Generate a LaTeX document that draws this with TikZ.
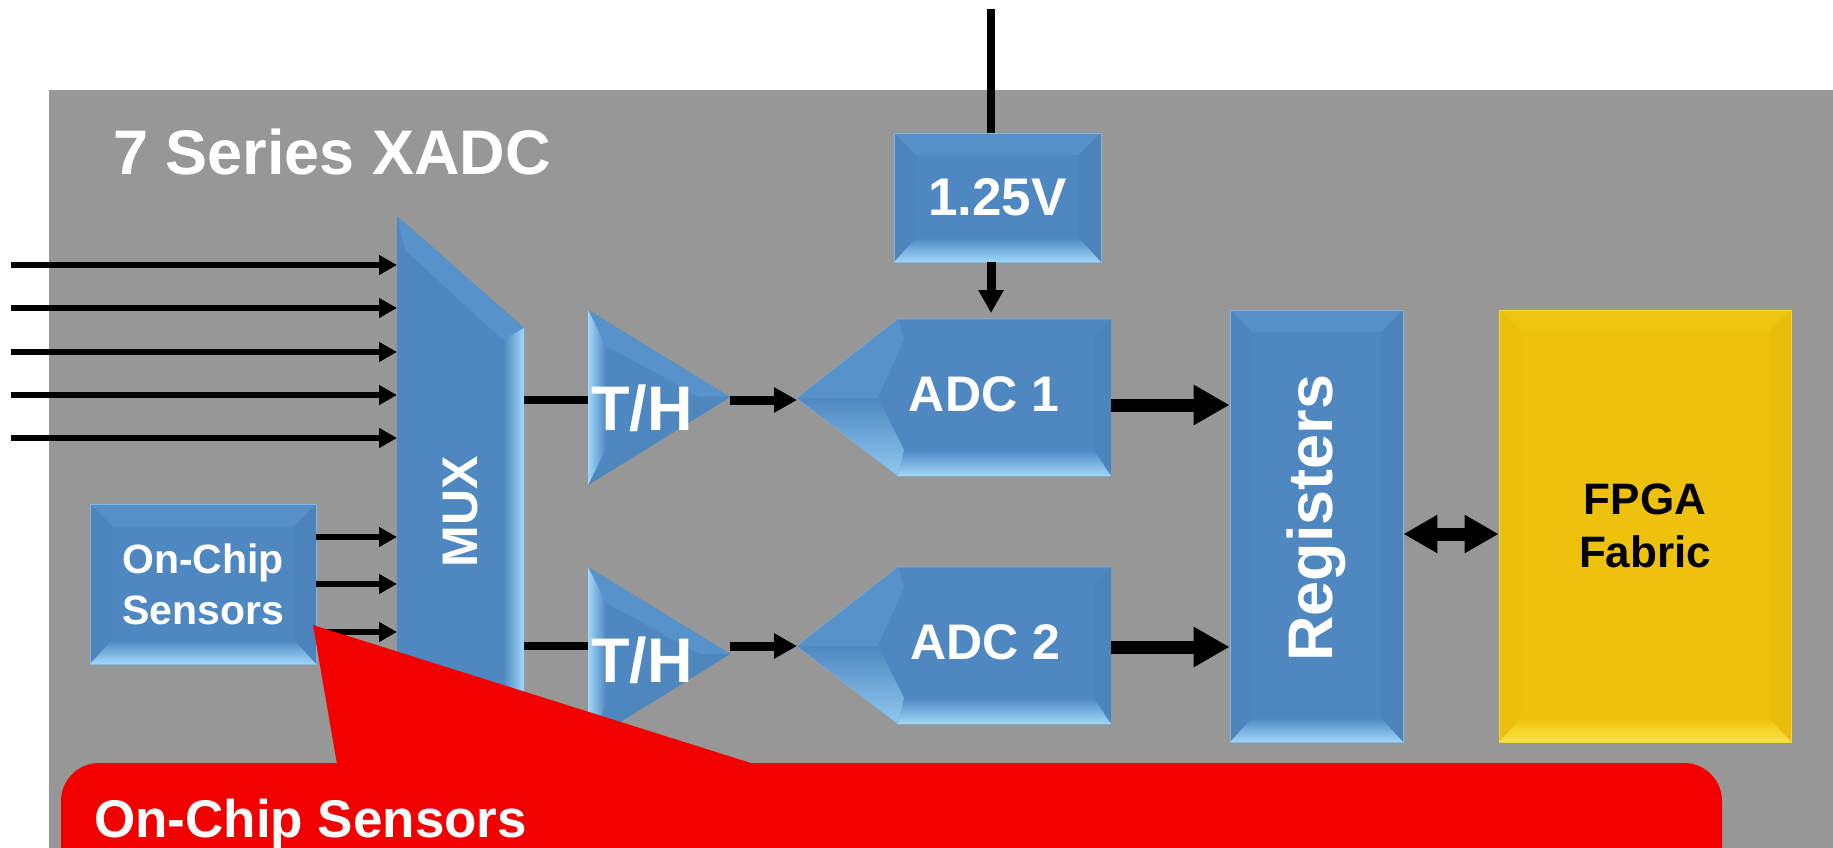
\documentclass[tikz,border=0pt]{standalone}
\usepackage{fontspec}
\setmainfont{Liberation Sans}
\usetikzlibrary{arrows.meta,positioning,calc}
\definecolor{szurke}{RGB}{150,151,150}
\definecolor{kek}{RGB}{79,136,193}
\definecolor{kekmid}{RGB}{88,146,203}
\definecolor{keklight}{RGB}{160,216,250}
\definecolor{kekdark}{RGB}{66,117,170}
\definecolor{sarga}{RGB}{238,193,12}
\definecolor{sargavil}{RGB}{252,228,70}
\definecolor{sargasot}{RGB}{224,178,8}
\definecolor{piros}{RGB}{242,0,0}
\newcommand{\txtsz}[2]{\fontsize{#1pt}{#2pt}\selectfont\bfseries}
\tikzset{
  bevel/.style n args={3}{fill=#1,draw=#2!60!#1,line width=0.8pt,inner sep=0pt,
    path picture={
      \path (path picture bounding box.south west) coordinate (bsw)
            (path picture bounding box.north west) coordinate (bnw)
            (path picture bounding box.north east) coordinate (bne)
            (path picture bounding box.south east) coordinate (bse);
      \fill[#2!10!#1] (bnw) -- (bne) -- ([shift={(-22pt,-22pt)}]bne) -- ([shift={(22pt,-22pt)}]bnw) -- cycle;
      \fill[#1!75!#3] (bne) -- (bse) -- ([shift={(-22pt,22pt)}]bse) -- ([shift={(-22pt,-22pt)}]bne) -- cycle;
      \fill[#1!85!#3] (bsw) -- (bnw) -- ([shift={(22pt,-22pt)}]bnw) -- ([shift={(22pt,22pt)}]bsw) -- cycle;
      \shade[top color=#1,bottom color=#2] (bsw) -- (bse) -- ([shift={(-22pt,24pt)}]bse) -- ([shift={(22pt,24pt)}]bsw) -- cycle;
    }},
  doboz/.style={bevel={kek}{keklight}{kekdark},text=white},
  sargadoboz/.style={bevel={sarga}{sargavil}{sargasot},text=black},
  felirat/.style={text=white,inner sep=0pt},
  vezetek/.style={line width=8pt},
  bemnyil/.style={line width=6pt,-{Triangle[length=18pt,width=19pt]}},
  jelnyil/.style={line width=9pt,-{Triangle[length=23pt,width=24pt]}},
  busznyil/.style={line width=13pt,-{Triangle[length=36pt,width=38pt]}},
  kettos/.style={line width=13pt,{Triangle[length=34pt,width=36pt]}-{Triangle[length=34pt,width=36pt]}},
}

\begin{document}
\begin{tikzpicture}[x=1pt,y=-1pt]
  \useasboundingbox (0,0) rectangle (1833,848);
  \clip (0,0) rectangle (1833,848);
  \fill[white] (0,0) rectangle (1833,848);
  \fill[szurke] (49,90) rectangle (1833,848);
  \node[felirat,anchor=base west,font={\txtsz{63}{63}}] (cim) at (113,174) {7 Series XADC};

  % MUX
  \fill[kek] (397,216) -- (524,328) -- (524,698) -- (397,810) -- cycle;
  \fill[kekmid] (397,216) -- (524,328) -- (505,342) -- (405,250) -- cycle;
  \shade[left color=kek,right color=keklight] (503,340) -- (524,328) -- (524,698) -- (503,686) -- cycle;
  \node[felirat,font={\txtsz{50}{50}}] (mux) at (461,512) {\rotatebox{90}{MUX}};

  % T/H
  \foreach \i/\t/\k in {1/310/400,2/567/646}{
    \fill[kek] (588,\t) -- (730,\t+87) -- (588,\t+175) -- cycle;
    \fill[kekmid] (588,\t) -- (730,\t+87) -- (700,\t+87) -- (606,\t+36) -- cycle;
    \fill[kek!88!kekdark] (588,\t+175) -- (730,\t+87) -- (700,\t+87) -- (606,\t+139) -- cycle;
    \shade[left color=keklight,right color=kek] (588,\t) -- (606,\t+36) -- (606,\t+139) -- (588,\t+175) -- cycle;
    \coordinate (mki\i) at (524,\k);
    \coordinate (thbe\i) at (588,\k);
    \coordinate (thki\i) at (730,\k);
  }
  \node[felirat,anchor=base,font={\txtsz{63}{63}}] (th1) at (642,430) {T/H};
  \node[felirat,anchor=base,font={\txtsz{63}{63}}] (th2) at (642,682) {T/H};

  % ADC
  \foreach \i/\t/\k in {1/319/405,2/567/647}{
    \fill[kek,draw=keklight!60!kek,line width=0.8pt] (797,\t+79) -- (898,\t) -- (1111,\t) -- (1111,\t+157) -- (898,\t+157) -- cycle;
    \fill[kekmid] (797,\t+79) -- (898,\t) -- (904,\t+20) -- (878,\t+79) -- cycle;
    \fill[kek!80!kekdark] (1111,\t) -- (1111,\t+157) -- (1094,\t+131) -- (1094,\t+18) -- cycle;
    \shade[top color=kek,bottom color=keklight] (898,\t+157) -- (1111,\t+157) -- (1094,\t+131) -- (904,\t+131) -- cycle;
    \shade[top color=kek,bottom color=keklight!80!kek] (797,\t+79) -- (898,\t+157) -- (904,\t+131) -- (878,\t+79) -- cycle;
    \coordinate (adcbe\i) at (797,\t+79);
    \coordinate (adcki\i) at (1111,\k);
  }
  \node[felirat,anchor=base,font={\txtsz{50}{50}}] (adc1) at (984,411) {ADC 1};
  \node[felirat,anchor=base,font={\txtsz{50}{50}}] (adc2) at (985,659) {ADC 2};
  \coordinate (adcfent) at (991,313);

  \node[doboz,minimum width=207pt,minimum height=129pt,font={\txtsz{53}{53}}] (ref) at (997.5,197.5) {1.25V};
  \node[doboz,minimum width=226pt,minimum height=160pt,align=center,font={\txtsz{41}{51}}] (szenz) at (203,584) {On-Chip\\Sensors};
  \node[doboz,minimum width=173pt,minimum height=432pt,font={\txtsz{63}{63}}] (reg) at (1316.5,526) {\rotatebox{90}{\hspace*{16pt}Registers}};
  \node[sargadoboz,minimum width=292pt,minimum height=432pt,align=center,font={\txtsz{44}{53}}] (fpga) at (1645,526) {FPGA\\Fabric};

  \coordinate (vref) at (991,9);
  \draw[vezetek] (vref) -- (vref |- ref.north);
  \draw[jelnyil] (vref |- ref.south) -- (adcfent);

  \foreach \i/\y in {1/265,2/308,3/352,4/395,5/438}{
    \coordinate (be\i) at (11,\y);
    \coordinate (mb\i) at (397,\y);
    \draw[bemnyil] (be\i) -- (mb\i);
  }
  \foreach \i/\y in {1/537,2/584,3/632}{
    \coordinate (ms\i) at (397,\y);
    \draw[bemnyil] (szenz.east |- ms\i) -- (ms\i);
  }
  \foreach \i in {1,2}{
    \draw[vezetek] (mki\i) -- (thbe\i);
    \draw[jelnyil] (thki\i) -- (thki\i -| adcbe\i);
    \draw[busznyil] (adcki\i) -- (adcki\i -| reg.west);
  }
  \draw[kettos] ([yshift=-8pt]reg.east) -- ([yshift=-8pt]fpga.west);

  % callout
  \fill[piros,rounded corners=38pt] (61,763) rectangle (1722,960);
  \fill[piros] (337,764) -- (313,625) -- (754,764) -- cycle;
  \node[felirat,anchor=base west,font={\txtsz{53}{53}}] (hivas) at (94,837) {On-Chip Sensors};
\end{tikzpicture}
\end{document}
